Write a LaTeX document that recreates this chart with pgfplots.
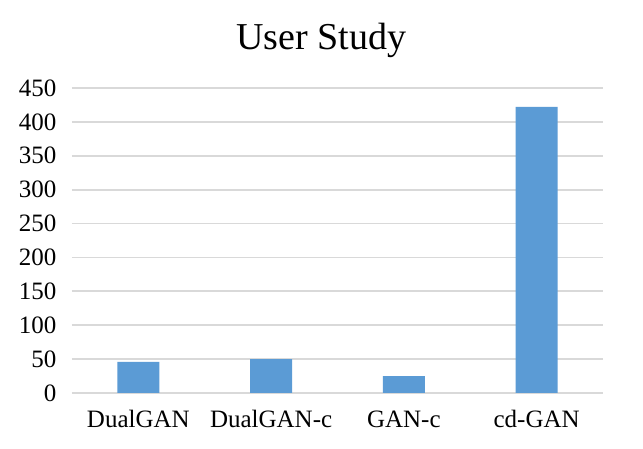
\documentclass[border=0pt]{standalone}
\usepackage{fontspec}
\setmainfont{Liberation Serif}
\usepackage{pgfplots}
\pgfplotsset{compat=1.18}
\definecolor{barblue}{RGB}{91,155,213}
\definecolor{gridgray}{RGB}{217,217,217}
\begin{document}
\begin{tikzpicture}[x=1pt,y=1pt]
\useasboundingbox[fill=white] (0,0) rectangle (643,449);
\node[font=\fontsize{38}{44}\selectfont] at (321.5,409) {User Study};
\begin{axis}[
    at={(72pt,56pt)},
    anchor=south west,
    scale only axis,
    width=531pt,
    height=305pt,
    xmin=-0.5, xmax=3.5,
    ymin=0, ymax=450,
    xtick={0,1,2,3},
    xticklabels={DualGAN, DualGAN-c, GAN-c, cd-GAN},
    ytick={0,50,...,450},
    ymajorgrids,
    grid style={gridgray, line width=1.8pt},
    axis line style={draw=none},
    major tick style={draw=none},
    tick label style={font=\fontsize{25}{30}\selectfont},
    /pgf/number format/assume math mode=true,
    yticklabel style={xshift=-12pt},
    xticklabel style={yshift=-14pt},
]
\addplot[ybar, bar width=42pt, fill=barblue, draw=none] coordinates {
    (0,46) (1,50) (2,25) (3,422)
};
\end{axis}
\end{tikzpicture}
\end{document}
